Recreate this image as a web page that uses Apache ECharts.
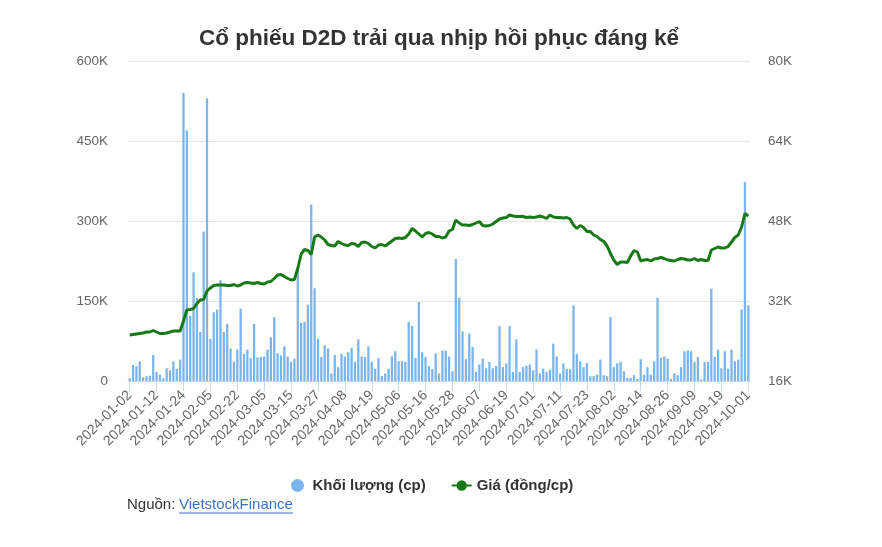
<!DOCTYPE html>
<html><head><meta charset="utf-8">
<script src="https://cdn.jsdelivr.net/npm/echarts@6/dist/echarts.min.js"></script>
<style>html,body{margin:0;padding:0;background:#fff}#c{width:882px;height:547px}</style>
</head><body><div id="c"></div>
<script>
const dates = [
'2024-01-02','2024-01-03','2024-01-04','2024-01-05','2024-01-08','2024-01-09','2024-01-10','2024-01-11','2024-01-12','2024-01-15','2024-01-16','2024-01-17','2024-01-18','2024-01-19','2024-01-22','2024-01-23','2024-01-24','2024-01-25','2024-01-26','2024-01-29','2024-01-30','2024-01-31',
'2024-02-01','2024-02-02','2024-02-05','2024-02-06','2024-02-07','2024-02-15','2024-02-16','2024-02-19','2024-02-20','2024-02-21','2024-02-22','2024-02-23','2024-02-26','2024-02-27','2024-02-28','2024-02-29',
'2024-03-01','2024-03-04','2024-03-05','2024-03-06','2024-03-07','2024-03-08','2024-03-11','2024-03-12','2024-03-13','2024-03-14','2024-03-15','2024-03-18','2024-03-19','2024-03-20','2024-03-21','2024-03-22','2024-03-25','2024-03-26','2024-03-27','2024-03-28','2024-03-29',
'2024-04-01','2024-04-02','2024-04-03','2024-04-04','2024-04-05','2024-04-08','2024-04-09','2024-04-10','2024-04-11','2024-04-12','2024-04-15','2024-04-16','2024-04-17','2024-04-19','2024-04-22','2024-04-23','2024-04-24','2024-04-25','2024-04-26',
'2024-05-02','2024-05-03','2024-05-06','2024-05-07','2024-05-08','2024-05-09','2024-05-10','2024-05-13','2024-05-14','2024-05-15','2024-05-16','2024-05-17','2024-05-20','2024-05-21','2024-05-22','2024-05-23','2024-05-24','2024-05-27','2024-05-28','2024-05-29','2024-05-30','2024-05-31',
'2024-06-03','2024-06-04','2024-06-05','2024-06-06','2024-06-07','2024-06-10','2024-06-11','2024-06-12','2024-06-13','2024-06-14','2024-06-17','2024-06-18','2024-06-19','2024-06-20','2024-06-21','2024-06-24','2024-06-25','2024-06-26','2024-06-27','2024-06-28',
'2024-07-01','2024-07-02','2024-07-03','2024-07-04','2024-07-05','2024-07-08','2024-07-09','2024-07-10','2024-07-11','2024-07-12','2024-07-15','2024-07-16','2024-07-17','2024-07-18','2024-07-19','2024-07-22','2024-07-23','2024-07-24','2024-07-25','2024-07-26','2024-07-29','2024-07-30','2024-07-31',
'2024-08-01','2024-08-02','2024-08-05','2024-08-06','2024-08-07','2024-08-08','2024-08-09','2024-08-12','2024-08-13','2024-08-14','2024-08-15','2024-08-16','2024-08-19','2024-08-20','2024-08-21','2024-08-22','2024-08-23','2024-08-26','2024-08-27','2024-08-28','2024-08-29','2024-08-30',
'2024-09-04','2024-09-05','2024-09-06','2024-09-09','2024-09-10','2024-09-11','2024-09-12','2024-09-13','2024-09-16','2024-09-17','2024-09-18','2024-09-19','2024-09-20','2024-09-23','2024-09-24','2024-09-25','2024-09-26','2024-09-27','2024-09-30',
'2024-10-01'];

// Khối lượng (nghìn cp)
const volume = [
5,30,28,37,7,9,10,49,17,12,5,24,20,37,23,40,
540,470,122,204,156,92,
280,530,79,129,134,189,92,107,61,36,59,136,51,59,43,107,44,45,46,59,82,120,52,48,
65,46,36,42,210,109,111,143,331,174,79,45,67,61,14,49,26,51,46,54,62,36,78,46,
45,65,36,23,43,9,14,23,46,56,37,37,36,111,103,43,148,54,45,28,22,52,14,57,
57,46,18,229,156,93,41,89,64,17,31,42,24,36,24,28,103,26,33,103,17,78,17,26,29,
31,20,59,14,23,17,21,70,46,14,33,23,22,142,51,37,26,34,9,9,12,40,11,
9,120,26,33,36,18,6,6,11,4,41,12,26,12,37,156,44,46,42,4,14,11,26,56,
57,56,36,45,3,36,36,173,45,59,24,56,23,59,37,40,134,373,142];

// Giá (nghìn đồng/cp)
const price = [
25.2,25.3,25.4,25.5,25.6,25.8,25.8,26.1,25.8,25.5,25.5,25.6,25.8,26.0,26.0,26.0,
28.0,30.2,30.3,30.5,31.5,32.2,
32.3,34.0,34.6,35.1,35.2,35.2,35.2,35.1,35.1,35.3,35.0,35.2,35.6,35.7,35.6,35.5,35.7,35.5,35.4,35.8,35.9,36.5,37.2,37.3,
36.9,36.5,36.2,36.3,38.5,41.4,42.3,42.1,41.3,44.8,45.2,44.8,44.2,43.3,43.1,43.0,43.9,43.5,43.2,43.1,43.5,43.4,42.9,43.7,
43.8,43.5,42.9,42.6,43.2,43.3,43.0,43.5,44.0,44.5,44.6,44.5,44.7,45.4,46.5,46.0,45.4,44.8,45.5,45.7,45.4,44.9,44.9,44.6,
44.8,46.0,46.3,48.2,47.6,47.2,47.2,47.1,47.3,47.6,47.9,47.1,47.0,47.1,47.4,47.9,48.4,48.6,48.7,49.2,49.0,48.9,48.9,48.9,48.7,
48.8,48.7,48.8,49.0,48.8,48.5,49.2,48.8,48.7,48.7,48.6,48.7,48.4,47.2,46.5,47.1,46.7,45.9,45.9,45.2,44.9,44.3,43.9,
43.0,41.5,40.2,39.3,39.8,39.8,39.7,41.0,42.1,41.8,40.0,40.2,40.3,40.0,40.4,40.5,40.7,40.5,40.2,40.1,40.0,40.3,40.5,40.4,
40.2,40.2,40.5,40.1,40.3,40.1,40.1,42.2,42.5,42.8,42.6,42.6,42.9,43.8,44.7,45.2,46.8,49.5,49.0];

const leftTicks = { min: 0, max: 600, interval: 150 };
const rightTicks = { min: 16, max: 80, interval: 16 };

const FONT = '"Liberation Sans", Arial, sans-serif';
const chart = echarts.init(document.getElementById('c'), null, { renderer: 'canvas' });
chart.setOption({
  animation: false,
  backgroundColor: '#fff',
  textStyle: { fontFamily: FONT },
  title: {
    text: 'Cổ phiếu D2D trải qua nhịp hồi phục đáng kể',
    left: 194, top: 22,
    textStyle: { fontFamily: FONT, fontSize: 22.5, fontWeight: 'bold', color: '#333333' }
  },
  legend: {
    top: 473, left: 286, itemGap: 25, itemWidth: 20, itemHeight: 13,
    textStyle: { fontFamily: FONT, fontSize: 15, fontWeight: 'bold', color: '#333333' },
    data: [{ name: 'Khối lượng (cp)', icon: 'circle' }, { name: 'Giá (đồng/cp)' }]
  },
  grid: { left: 128, right: 132, top: 61, bottom: 166, containLabel: false },
  xAxis: {
    type: 'category', data: dates, boundaryGap: true,
    axisLine: { lineStyle: { color: '#ccd6eb' } },
    axisTick: { show: true, interval: 7, alignWithLabel: true, length: 10, lineStyle: { color: '#ccd6eb' } },
    axisLabel: { interval: 7, rotate: 45, fontSize: 14, color: '#666666', fontFamily: FONT, margin: 12 }
  },
  yAxis: [
    { type: 'value', min: leftTicks.min, max: leftTicks.max, interval: leftTicks.interval,
      axisLine: { show: false }, axisTick: { show: false },
      splitLine: { lineStyle: { color: '#e6e6e6' } },
      axisLabel: { color: '#666666', fontSize: 13.5, fontFamily: FONT, margin: 20,
        formatter: v => v === 0 ? '0' : v + 'K' } },
    { type: 'value', min: rightTicks.min, max: rightTicks.max, interval: rightTicks.interval,
      axisLine: { show: false }, axisTick: { show: false }, splitLine: { show: false },
      axisLabel: { color: '#666666', fontSize: 13.5, fontFamily: FONT, margin: 18,
        formatter: v => v + 'K' } }
  ],
  series: [
    { name: 'Khối lượng (cp)', type: 'bar', yAxisIndex: 0, data: volume, barWidth: '68%',
      itemStyle: { color: '#7cb5ec' } },
    { name: 'Giá (đồng/cp)', type: 'line', yAxisIndex: 1, data: price, symbol: 'circle', symbolSize: 8,
      showSymbol: false, lineStyle: { color: '#177a17', width: 3 }, itemStyle: { color: '#177a17' } }
  ],
  graphic: [
    { type: 'text', left: 127, top: 497, style: { text: 'Nguồn: ', font: '15px ' + FONT, fill: '#333333' } },
    { type: 'text', left: 179, top: 497, style: { text: 'VietstockFinance', font: '15px ' + FONT, fill: '#3b73c4' } },
    { type: 'line', shape: { x1: 179, y1: 513, x2: 293, y2: 513 }, style: { stroke: '#3b73c4', lineWidth: 1 } }
  ]
});
</script></body></html>
